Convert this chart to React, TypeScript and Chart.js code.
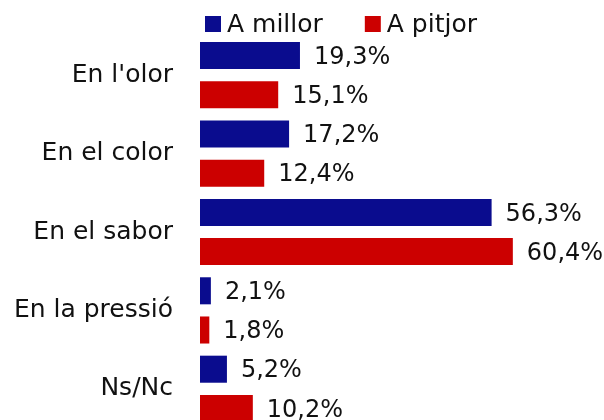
import React, { useEffect, useRef } from "react";
import { Chart, registerables } from "chart.js";

Chart.register(...registerables);

const categories = ["En l'olor", "En el color", "En el sabor", "En la pressió", "Ns/Nc"];
const seriesNames = ["A millor", "A pitjor"];
const millorValues = [19.3, 17.2, 56.3, 2.1, 5.2];
const pitjorValues = [15.1, 12.4, 60.4, 1.8, 10.2];
const seriesColors = ["#0a0c8e", "#cc0000"];

const FONT = "'DejaVu Sans', sans-serif";

const fmt = (v: number) => v.toFixed(1).replace(".", ",") + "%";

const valueLabels = {
  id: "valueLabels",
  afterDatasetsDraw(chart: any) {
    const ctx = chart.ctx;
    ctx.save();
    ctx.font = `24px ${FONT}`;
    ctx.fillStyle = "#111";
    ctx.textAlign = "left";
    ctx.textBaseline = "middle";
    chart.data.datasets.forEach((ds: any, i: number) => {
      const meta = chart.getDatasetMeta(i);
      meta.data.forEach((el: any, j: number) => {
        ctx.fillText(fmt(ds.data[j]), el.x + 14, el.y + 2);
      });
    });
    ctx.restore();
  },
};

const customLegend = {
  id: "customLegend",
  afterDraw(chart: any) {
    const ctx = chart.ctx;
    ctx.save();
    ctx.font = `25px ${FONT}`;
    ctx.textBaseline = "middle";
    ctx.textAlign = "left";
    let x = chart.chartArea.left + 5;
    const cy = 24;
    chart.data.datasets.forEach((ds: any) => {
      ctx.fillStyle = ds.backgroundColor;
      ctx.fillRect(x, cy - 8, 16, 16);
      ctx.fillStyle = "#111";
      const tx = x + 22;
      ctx.fillText(ds.label, tx, cy + 1);
      x = tx + ctx.measureText(ds.label).width + 42;
    });
    ctx.restore();
  },
};

export default function App() {
  const ref = useRef<HTMLCanvasElement>(null);
  useEffect(() => {
    if (!ref.current) return;
    const chart = new Chart(ref.current, {
      type: "bar",
      data: {
        labels: categories,
        datasets: [
          { label: seriesNames[0], data: millorValues, backgroundColor: seriesColors[0] },
          { label: seriesNames[1], data: pitjorValues, backgroundColor: seriesColors[1] },
        ],
      },
      options: {
        indexAxis: "y",
        responsive: false,
        animation: false,
        layout: { padding: { top: 36, bottom: 0, left: 0, right: 0 } },
        datasets: { bar: { categoryPercentage: 1, barPercentage: 0.69 } },
        plugins: { legend: { display: false }, tooltip: { enabled: false } },
        scales: {
          x: { display: false, min: 0, max: 78 },
          y: {
            border: { display: false },
            grid: { display: false, drawTicks: false },
            ticks: { color: "#111", padding: 27, font: { family: FONT, size: 25 } },
            afterFit(scale: any) {
              scale.width = 200;
              scale.paddingTop = 0;
              scale.paddingBottom = 0;
            },
          },
        },
      },
      plugins: [valueLabels, customLegend],
    });
    return () => chart.destroy();
  }, []);
  return (
    <div style={{ position: "absolute", left: 0, top: 0, width: 604, height: 420, overflow: "hidden", background: "#fff" }}>
      <canvas ref={ref} width={604} height={428} style={{ display: "block" }} />
    </div>
  );
}
